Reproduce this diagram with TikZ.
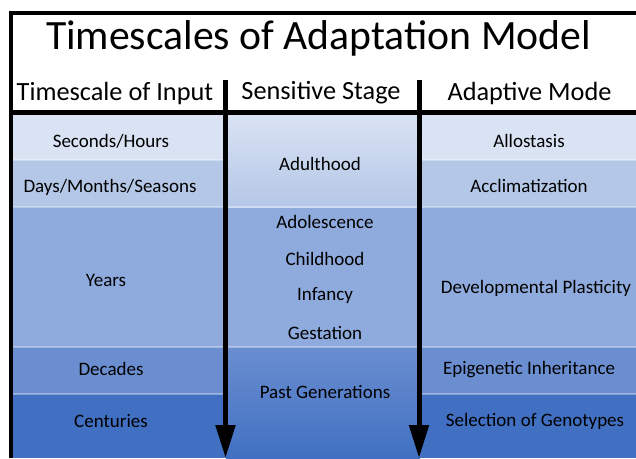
\documentclass[tikz,border=0pt]{standalone}
\usepackage{fontspec}
\setmainfont{Carlito}
\usepackage{xcolor}
\usetikzlibrary{arrows.meta}
\definecolor{rowA}{HTML}{DAE3F3}
\definecolor{rowB}{HTML}{B4C7E7}
\definecolor{rowC}{HTML}{8FAADC}
\definecolor{rowD}{HTML}{6A8ED0}
\definecolor{rowE}{HTML}{4170C2}

\begin{document}
\begin{tikzpicture}[x=1pt,y=-1pt,
    cell/.style={font=\fontsize{19}{22}\selectfont, text=black},
    head/.style={font=\fontsize{26.3}{30}\selectfont},
    timearrow/.style={line width=5pt, -{Triangle[length=33pt,width=19pt]}}]
  \useasboundingbox (0,0) rectangle (636,458);
  % \draw[style=help lines, step=50] (0,0) grid (636,458);
  % colour bands, top to bottom
  \fill[rowA] (11,113) rectangle (640,160);
  \fill[rowB] (11,160) rectangle (640,207);
  \fill[rowC] (11,207) rectangle (640,347);
  \fill[rowD] (11,347) rectangle (640,394);
  \fill[rowE] (11,394) rectangle (640,458);
  \shade[top color=rowA, bottom color=rowB] (226,113) rectangle (420,207);
  \shade[top color=rowD, bottom color=rowE] (226,347) rectangle (420,458);
  \draw[white, opacity=.35, line width=1.5pt] (11,160) -- (226,160) (420,160) -- (640,160)
    (11,207) -- (640,207) (11,347) -- (640,347)
    (11,394) -- (226,394) (420,394) -- (640,394);
  % frame and header rule
  \draw[line width=4pt] (11,458) -- (11,13) -- (640,13);
  \draw[line width=4.5pt] (11,112.5) -- (640,112.5);

  \node[font=\fontsize{41.7}{46}\selectfont] (title) at (318.5,38) {Timescales of Adaptation Model};
  \node[head] (input) at (115,93) {Timescale of Input};
  \node[head] (stage) at (321,93) {Sensitive Stage};
  \node[head] (mode) at (529.5,93) {Adaptive Mode};

  \node[cell] (secs) at (111,141) {Seconds/Hours};
  \node[cell] (days) at (110,187) {Days/Months/Seasons};
  \node[cell] (years) at (106,280) {Years};
  \node[cell] (decades) at (111,369) {Decades};
  \node[cell] (centuries) at (111,421) {Centuries};

  \node[cell] (adult) at (320,164) {Adulthood};
  \node[cell] (adol) at (325,222) {Adolescence};
  \node[cell] (child) at (325,259) {Childhood};
  \node[cell] (infancy) at (325,296) {Infancy};
  \node[cell] (gest) at (325,333) {Gestation};
  \node[cell] (pastgen) at (325,392) {Past Generations};

  \node[cell] (allo) at (529,141) {Allostasis};
  \node[cell] (accl) at (529,186) {Acclimatization};
  \node[cell] (devplast) at (536,288) {Developmental Plasticity};
  \node[cell] (epigen) at (529,370) {Epigenetic Inheritance};
  \node[cell] (selgen) at (535,421) {Selection of Genotypes};

  % the two time arrows
  \coordinate (inTop) at (225.5,80);
  \coordinate (inEnd) at (225.5,458);
  \coordinate (modeTop) at (419,80);
  \coordinate (modeEnd) at (419,458);
  \draw[timearrow] (inTop) -- (inEnd);
  \draw[timearrow] (modeTop) -- (modeEnd);
\end{tikzpicture}
\end{document}
